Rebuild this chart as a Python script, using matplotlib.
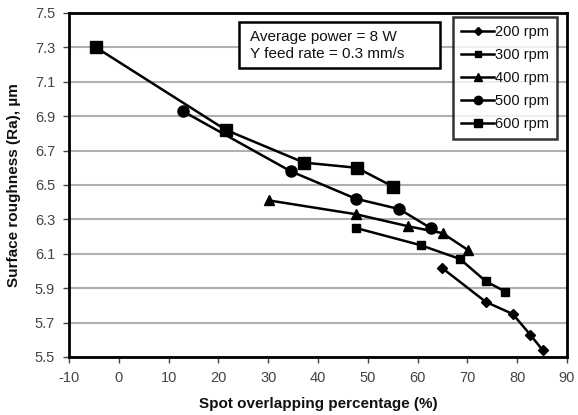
import matplotlib
matplotlib.use("Agg")
import matplotlib.pyplot as plt
from matplotlib.patches import Rectangle
import numpy as np

plt.rcParams['font.family'] = ['Liberation Sans', 'DejaVu Sans']
plt.rcParams['axes.unicode_minus'] = False

x200 = [64.8, 73.7, 79.1, 82.6, 85.1]
y200 = [6.02, 5.82, 5.75, 5.63, 5.54]
x300 = [47.6, 60.6, 68.5, 73.7, 77.6]
y300 = [6.25, 6.15, 6.07, 5.94, 5.88]
x400 = [30.2, 47.6, 58.1, 65.0, 70.2]
y400 = [6.41, 6.33, 6.26, 6.22, 6.12]
x500 = [12.8, 34.5, 47.6, 56.3, 62.6]
y500 = [6.93, 6.58, 6.42, 6.36, 6.25]
x600 = [-4.6, 21.5, 37.2, 47.8, 55.1]
y600 = [7.30, 6.82, 6.63, 6.60, 6.49]

labels = ['200 rpm', '300 rpm', '400 rpm', '500 rpm', '600 rpm']
xticks = list(range(-10, 91, 10))
yticks = [5.5, 5.7, 5.9, 6.1, 6.3, 6.5, 6.7, 6.9, 7.1, 7.3, 7.5]

fig = plt.figure(figsize=(5.78, 4.15), dpi=100)
ax = fig.add_axes([0.1194, 0.1398, 0.8616, 0.8289])

series = [(x200, y200, 'D', 5.5), (x300, y300, 's', 6),
          (x400, y400, '^', 7), (x500, y500, 'o', 8), (x600, y600, 's', 8.5)]
for (xs, ys, m, ms), lab in zip(series, labels):
    ax.plot(xs, ys, color='black', lw=1.8, marker=m, ms=ms, label=lab,
            markerfacecolor='black', markeredgecolor='black')

ax.set_xlim(-10, 90)
ax.set_ylim(5.5, 7.5)
ax.set_xticks(xticks)
ax.set_yticks(yticks)
ax.set_yticklabels([f"{v:.1f}" for v in yticks])
ax.grid(axis='y', color='#b0b0b0', lw=1.5)
ax.set_axisbelow(True)
for s in ax.spines.values():
    s.set_linewidth(2)
ax.tick_params(direction='out', length=4, width=1, labelsize=10.5, colors='#444444', pad=6)

ax.set_xlabel('Spot overlapping percentage (%)', fontsize=11, fontweight='bold', labelpad=9,
              color='#111111')
ax.set_ylabel('Surface roughness (Ra), µm', fontsize=11, fontweight='bold', labelpad=10,
              color='#111111')

ax.add_patch(Rectangle((0.341, 0.840), 0.404, 0.135, transform=ax.transAxes,
                       facecolor='white', edgecolor='black', lw=1.8, zorder=5))
ax.text(0.3635, 0.930, 'Average power = 8 W', transform=ax.transAxes,
        ha='left', va='center', fontsize=11, color='#111111', zorder=6)
ax.text(0.3635, 0.880, 'Y feed rate = 0.3 mm/s', transform=ax.transAxes,
        ha='left', va='center', fontsize=11, color='#111111', zorder=6)

leg = ax.legend(loc='upper right', bbox_to_anchor=(0.980, 0.988), fontsize=10.5,
                frameon=True, fancybox=False, edgecolor='black', handlelength=2.2,
                handletextpad=0.1, labelspacing=0.62, borderpad=0.55, markerscale=0.75,
                borderaxespad=0)
leg.get_frame().set_linewidth(1.8)
for t in leg.get_texts():
    t.set_color('#111111')

fig.savefig('out.png', dpi=100)
